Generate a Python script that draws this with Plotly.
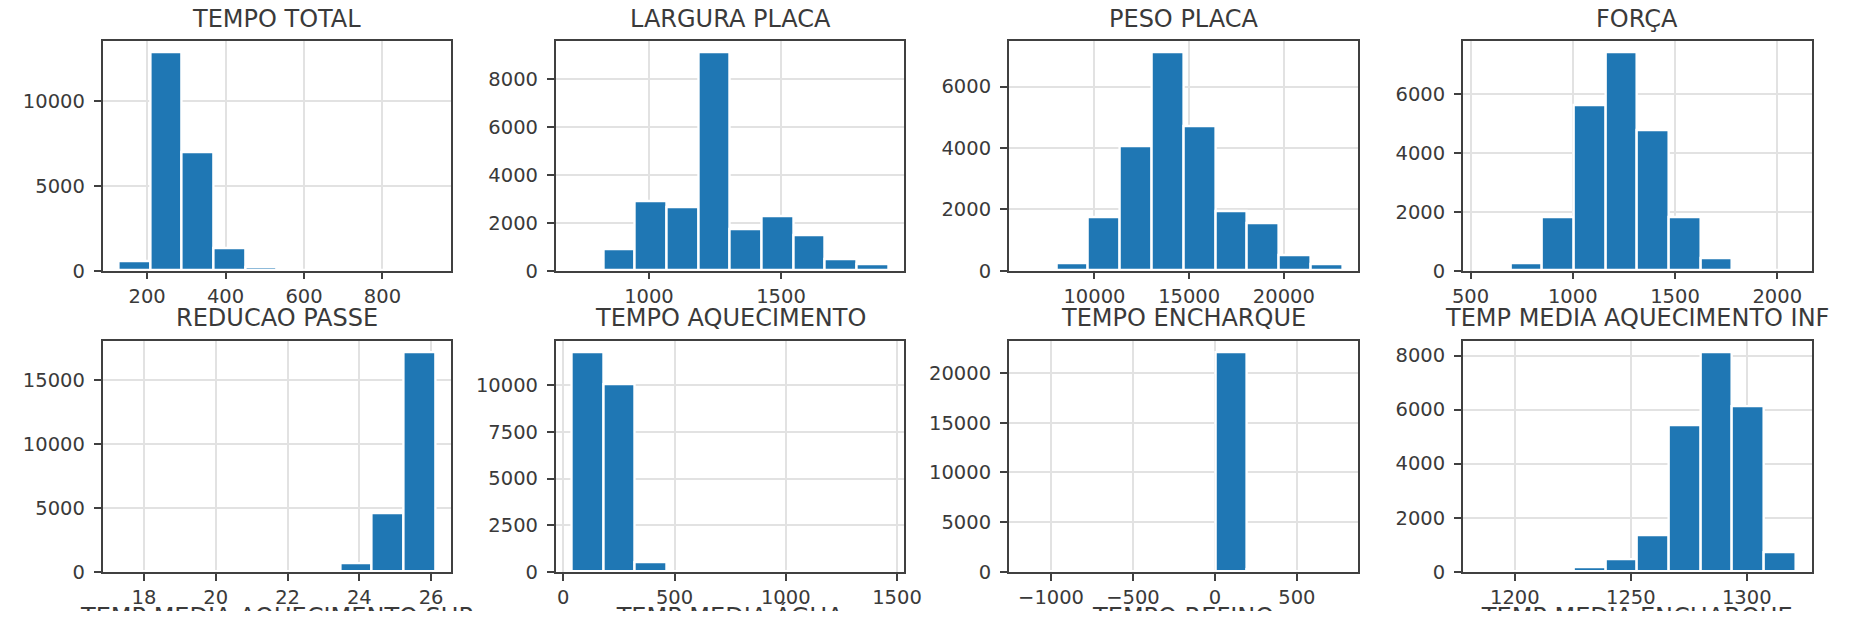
import numpy as np
import plotly.graph_objects as go

W, H = 1863, 623

# ---------------- data ----------------
titles = ["TEMPO TOTAL", "LARGURA PLACA", "PESO PLACA", "FORÇA",
          "REDUCAO PASSE", "TEMPO AQUECIMENTO", "TEMPO ENCHARQUE",
          "TEMP MEDIA AQUECIMENTO INF"]
next_row_titles = ["TEMP MEDIA AQUECIMENTO SUP", "TEMP MEDIA ÁGUA",
                   "TEMPO REFINO", "TEMP MEDIA ENCHARQUE"]

tempo_total_range = [127, 935]
tempo_total_counts = [550, 12900, 7000, 1330, 190, 30, 10, 4, 2, 1]

largura_placa_range = [707, 1907]
largura_placa_counts = [70, 910, 2890, 2650, 9110, 1735, 2285, 1490, 485, 250]

peso_placa_range = [6315, 23098]
peso_placa_counts = [10, 250, 1750, 4050, 7120, 4720, 1930, 1550, 490, 200]

forca_range = [540, 2090]
forca_counts = [5, 260, 1830, 5630, 7440, 4780, 1830, 410, 3, 2]

reducao_passe_range = [17.29, 26.12]
reducao_passe_counts = [1, 0, 0, 0, 0, 2, 8, 650, 4600, 17200]

tempo_aquec_range = [37, 1462]
tempo_aquec_counts = [11780, 10050, 500, 20, 6, 3, 2, 1, 0, 1]

tempo_encharque_range = [-1161, 779]
tempo_encharque_counts = [1, 0, 0, 0, 0, 0, 22100, 200, 10, 2]

temp_aquec_inf_range = [1184.4, 1321.1]
temp_aquec_inf_counts = [1, 0, 4, 180, 460, 1340, 5410, 8120, 6110, 730]

x_ticks = [
    [200, 400, 600, 800],
    [1000, 1500],
    [10000, 15000, 20000],
    [500, 1000, 1500, 2000],
    [18, 20, 22, 24, 26],
    [0, 500, 1000, 1500],
    [-1000, -500, 0, 500],
    [1200, 1250, 1300],
]
y_ticks = [
    [0, 5000, 10000],
    [0, 2000, 4000, 6000, 8000],
    [0, 2000, 4000, 6000],
    [0, 2000, 4000, 6000],
    [0, 5000, 10000, 15000],
    [0, 2500, 5000, 7500, 10000],
    [0, 5000, 10000, 15000, 20000],
    [0, 2000, 4000, 6000, 8000],
]

ranges = [tempo_total_range, largura_placa_range, peso_placa_range, forca_range,
          reducao_passe_range, tempo_aquec_range, tempo_encharque_range,
          temp_aquec_inf_range]
counts = [tempo_total_counts, largura_placa_counts, peso_placa_counts, forca_counts,
          reducao_passe_counts, tempo_aquec_counts, tempo_encharque_counts,
          temp_aquec_inf_counts]

# ---------------- layout geometry (pixels) ----------------
col_left = [93, 553, 1013, 1474]
col_right = [447, 907, 1368, 1828]
row_top = [42, 348]
row_bottom = [276, 583]
title_y = [19.5, 324]
next_title_y = 631     # anchor of the (cut-off) third-row titles
strip_h = 40           # height of the clipped strip at the bottom

FONT = "DejaVu Sans"
TXT = "#3a3a3a"
SPINE = "#404040"
GRID = "#e2e2e2"
BAR = "#1f77b4"


def fmt(v):
    s = f"{v:g}"
    return s.replace("-", "\u2212")


fig = go.Figure()
layout = dict(
    width=W, height=H,
    margin=dict(l=0, r=0, t=0, b=0),
    paper_bgcolor="white", plot_bgcolor="rgba(0,0,0,0)",
    showlegend=False, bargap=0,
    font=dict(family=FONT, color=TXT, size=19.5),
)
annotations = []

for i in range(8):
    r, c = divmod(i, 4)
    lo, hi = ranges[i]
    edges = np.linspace(lo, hi, len(counts[i]) + 1)
    centers = (edges[:-1] + edges[1:]) / 2
    widths = np.diff(edges)
    ax = "" if i == 0 else str(i + 1)
    fig.add_trace(go.Bar(
        x=centers, y=counts[i], width=widths,
        marker=dict(color=BAR, line=dict(color="white", width=2.4)),
        xaxis="x" + ax, yaxis="y" + ax, hoverinfo="x+y",
    ))
    span = hi - lo
    xr = [lo - 0.05 * span, hi + 0.05 * span]
    yr = [0, max(counts[i]) * 1.05]
    common = dict(
        showline=True, linecolor=SPINE, linewidth=1.6, mirror=True,
        ticks="outside", ticklen=7, tickwidth=1.5, tickcolor=SPINE,
        showgrid=True, gridcolor=GRID, gridwidth=1.5, zeroline=False,
        tickfont=dict(family=FONT, size=19.5, color=TXT),
    )
    layout["xaxis" + ax] = dict(
        common, domain=[col_left[c] / W, col_right[c] / W],
        range=xr, tickmode="array", tickvals=x_ticks[i],
        ticktext=[fmt(v) for v in x_ticks[i]],
        anchor="y" + ax,
    )
    layout["yaxis" + ax] = dict(
        common, domain=[1 - row_bottom[r] / H, 1 - row_top[r] / H],
        range=yr, tickmode="array", tickvals=y_ticks[i],
        ticktext=[fmt(v) for v in y_ticks[i]],
        anchor="x" + ax, ticklabelstandoff=5,
    )
    annotations.append(dict(
        text=titles[i], xref="paper", yref="paper",
        x=(col_left[c] + col_right[c]) / 2 / W, y=1 - title_y[r] / H,
        xanchor="center", yanchor="middle", showarrow=False,
        borderpad=0, borderwidth=0,
        font=dict(family=FONT, size=24, color=TXT),
    ))

# third-row titles, cut off by the bottom edge: drawn as clipped text in a
# hidden strip subplot so nothing spills outside the page
fig.add_trace(go.Scatter(
    x=[(col_left[c] + col_right[c]) / 2 for c in range(4)],
    y=[H - next_title_y] * 4,
    text=next_row_titles, mode="text", textposition="middle center",
    textfont=dict(family=FONT, size=24, color=TXT),
    cliponaxis=True, hoverinfo="skip",
    xaxis="x9", yaxis="y9",
))
layout["xaxis9"] = dict(domain=[0, 1], range=[0, W], visible=False,
                        anchor="y9", fixedrange=True)
layout["yaxis9"] = dict(domain=[0, strip_h / H], range=[0, strip_h],
                        visible=False, anchor="x9", fixedrange=True)

layout["annotations"] = annotations
fig.update_layout(**layout)
fig.write_html("out.html")
